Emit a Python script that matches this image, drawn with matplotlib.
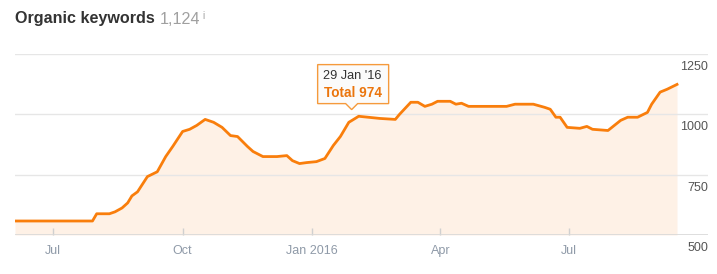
import matplotlib
matplotlib.use("Agg")
import matplotlib.pyplot as plt
import matplotlib.dates as mdates
from matplotlib.patches import Polygon
from matplotlib.transforms import Affine2D, ScaledTranslation
import numpy as np
import datetime as dt

plt.rcParams['font.family'] = ['Liberation Sans', 'DejaVu Sans']

dates = ["2015-06-04", "2015-07-29", "2015-08-01", "2015-08-10", "2015-08-14", "2015-08-19",
         "2015-08-23", "2015-08-26", "2015-08-30", "2015-09-06", "2015-09-13", "2015-09-19",
         "2015-09-24", "2015-10-01", "2015-10-06", "2015-10-11", "2015-10-17", "2015-10-23",
         "2015-10-29", "2015-11-04", "2015-11-09", "2015-11-16", "2015-11-20", "2015-11-27",
         "2015-12-07", "2015-12-14", "2015-12-18", "2015-12-23", "2015-12-28", "2016-01-04",
         "2016-01-10", "2016-01-16", "2016-01-21", "2016-01-27", "2016-01-29", "2016-02-03",
         "2016-02-18", "2016-02-29", "2016-03-03", "2016-03-11", "2016-03-16", "2016-03-21",
         "2016-03-26", "2016-03-30", "2016-04-08", "2016-04-12", "2016-04-16", "2016-04-21",
         "2016-04-26", "2016-05-18", "2016-05-24", "2016-06-06", "2016-06-14", "2016-06-18",
         "2016-06-22", "2016-06-25", "2016-06-30", "2016-07-09", "2016-07-14", "2016-07-18",
         "2016-07-29", "2016-08-07", "2016-08-12", "2016-08-19", "2016-08-26", "2016-08-29",
         "2016-09-04", "2016-09-09", "2016-09-16"]
values = [558, 558, 588, 588, 596, 612,
          633, 662, 679, 742, 762, 825,
          867, 929, 938, 954, 979, 967,
          946, 912, 908, 867, 846, 825,
          825, 829, 808, 796, 800, 804,
          817, 871, 908, 967, 974, 992,
          983, 979, 1000, 1050, 1050, 1033,
          1042, 1054, 1054, 1042, 1046, 1033,
          1033, 1033, 1042, 1042, 1029, 1021,
          988, 988, 946, 942, 950, 938,
          933, 975, 988, 988, 1008, 1042,
          1092, 1104, 1124]
tick_dates = ["2015-07-01", "2015-10-01", "2016-01-01", "2016-04-01", "2016-07-01"]
tick_labels = ["Jul", "Oct", "Jan 2016", "Apr", "Jul"]
y_ticks = [500, 750, 1000, 1250]
tooltip_date = "2016-01-29"
tooltip_value = 974
tooltip_label = "29 Jan '16"
title = "Organic keywords"
total = "1,124"

x = [dt.datetime.strptime(d, "%Y-%m-%d") for d in dates]
xn = mdates.date2num(x)

W, H = 717, 274
fig = plt.figure(figsize=(W / 100, H / 100), dpi=100)
left, right, top, bottom = 15, 708, 54, 235
ax = fig.add_axes([left / W, 1 - bottom / H, (right - left) / W, (bottom - top) / H])

line_c = '#f97e0c'
ax.fill_between(xn, values, 500, color='#fef1e6', lw=0, zorder=1)
ax.plot(xn, values, color=line_c, lw=2.0, zorder=3, solid_joinstyle='round')

ax.set_ylim(500, 1250)
ax.set_xlim(mdates.date2num(dt.datetime(2015, 6, 4)), mdates.date2num(dt.datetime(2016, 10, 8)))

for v in y_ticks[1:]:
    ax.axhline(v, color='#e6e6e6', lw=1, zorder=2)
ax.axhline(500, color='#d8d8d8', lw=1.2, zorder=4)

for s in ax.spines.values():
    s.set_visible(False)
ax.set_yticks([])
tn = mdates.date2num([dt.datetime.strptime(d, "%Y-%m-%d") for d in tick_dates])
ax.set_xticks(tn)
ax.set_xticklabels(tick_labels)
ax.tick_params(axis='x', direction='in', length=5, width=1, color='#d0d0d0',
               labelcolor='#8f9aa8', labelsize=9, pad=7)

for v in y_ticks:
    ax.text(1.0, v, str(v), transform=ax.get_yaxis_transform() + Affine2D().translate(0, -7),
            ha='right', va='top', fontsize=9, color='#555555')

# tooltip
tx = mdates.date2num(dt.datetime.strptime(tooltip_date, "%Y-%m-%d"))
anchor = Affine2D() + ScaledTranslation(tx, tooltip_value, ax.transData)
verts = [(-34, 17), (-6, 17), (0, 11), (6, 17), (37, 17), (37, 56), (-34, 56)]
poly = Polygon(verts, closed=True, transform=anchor, facecolor='#fbfbfb',
               edgecolor='#f59a3c', lw=1.0, zorder=6, clip_on=False)
ax.add_patch(poly)
ax.text(0, 0, tooltip_label, transform=anchor + Affine2D().translate(1, 45),
        ha='center', va='center', fontsize=9.2, color='#333333', zorder=7)
ax.text(0, 0, f"Total {tooltip_value}", transform=anchor + Affine2D().translate(1, 28),
        ha='center', va='center', fontsize=9.8, fontweight='bold', color='#eb750d', zorder=7)

# title
t1 = fig.text(15 / W, 1 - 19 / H, title, ha='left', va='center', fontsize=11.6,
              fontweight='bold', color='#333333')
fig.canvas.draw()
bb = t1.get_window_extent()
t2 = fig.text((bb.x1 + 5) / W, 1 - 19 / H, total, ha='left', va='center', fontsize=11.6,
              color='#a0a0a0')
fig.canvas.draw()
bb2 = t2.get_window_extent()
fig.text((bb2.x1 + 2) / W, 1 - 16 / H, "i", ha='left', va='center', fontsize=7,
         color='#a0a0a0')

fig.savefig("out.png", dpi=100)
